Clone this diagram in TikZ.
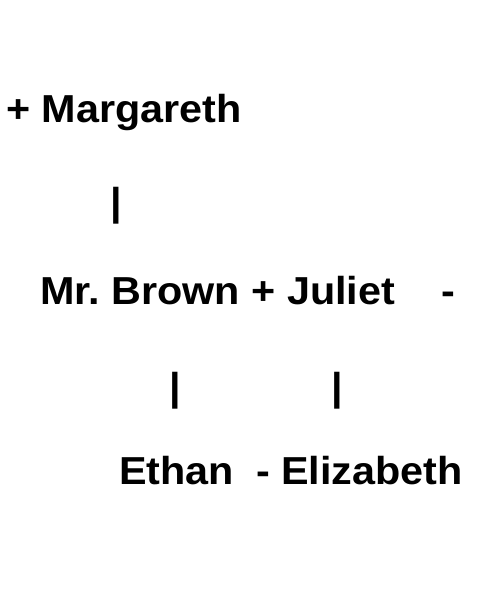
\documentclass[tikz,border=0pt]{standalone}
\usepackage{fontspec}
\setmainfont{Liberation Sans}[FakeStretch=1.06]
\begin{document}
\begin{tikzpicture}[x=1pt,y=1pt,
  txt/.style={anchor=base west,inner sep=0pt,font=\fontsize{39}{44}\selectfont\bfseries},
  bar/.style={anchor=base,inner sep=0pt,font=\fontsize{39}{44}\selectfont\bfseries}]
\useasboundingbox[fill=white] (0,0) rectangle (488,600);
\node[txt] (marg) at (6,{600-123}) {+ Margareth};
\node[bar] (b1) at (116,{600-216}) {|};
\node[txt] (brown) at (40,{600-305}) {Mr.\ Brown + Juliet};
\node[txt] (dash1) at (441,{600-305}) {-};
\node[bar] (b2) at (175,{600-401}) {|};
\node[bar] (b3) at (337,{600-401}) {|};
\node[txt] (ethan) at (119,{600-485}) {Ethan};
\node[txt] (eliz) at (256,{600-485}) {- Elizabeth};
\end{tikzpicture}
\end{document}
